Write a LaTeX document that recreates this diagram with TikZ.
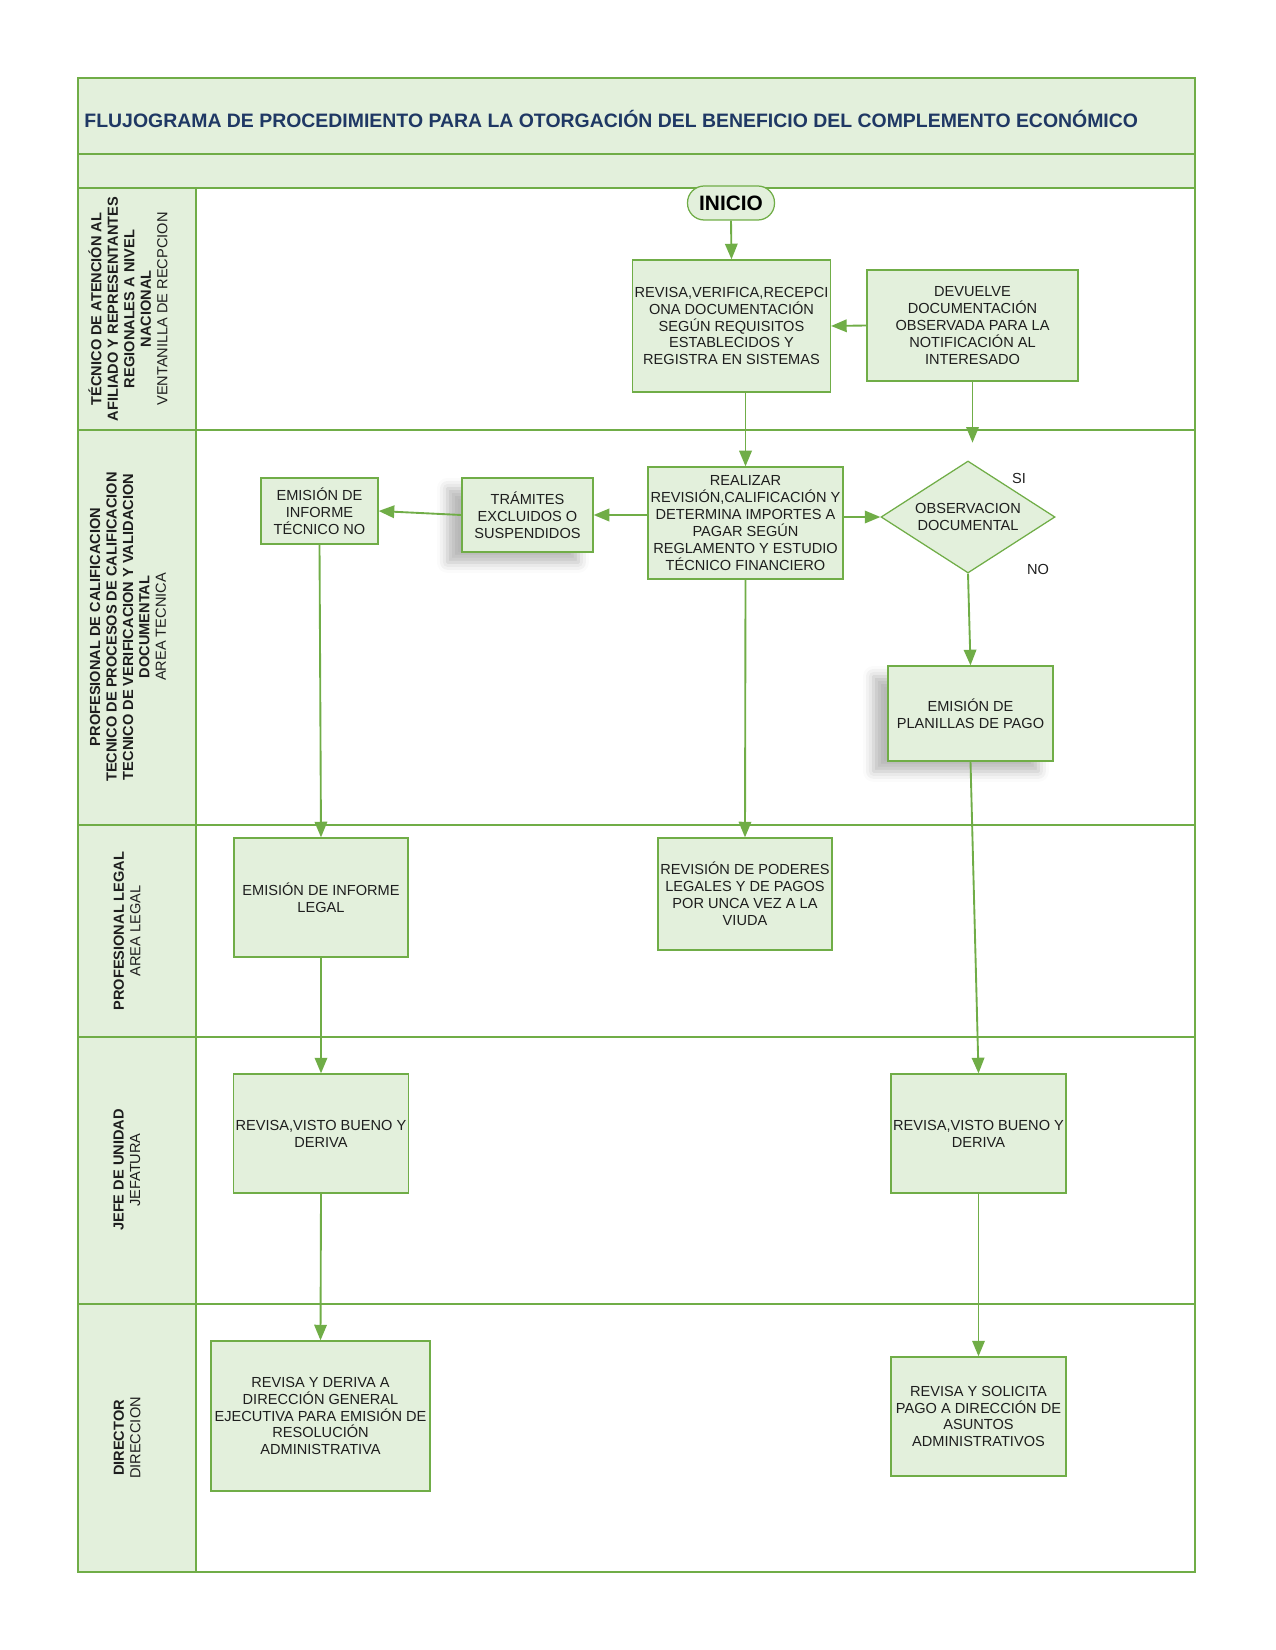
\documentclass[tikz,border=0pt]{standalone}
\usepackage{fontspec}
\setmainfont{Liberation Sans}
\usetikzlibrary{arrows.meta,shapes.geometric,shadows.blur}
\definecolor{gfill}{RGB}{227,240,220}
\definecolor{gline}{RGB}{112,173,71}
\definecolor{titleblue}{RGB}{31,56,100}
\definecolor{txt}{RGB}{30,30,30}
\begin{document}
\begin{tikzpicture}[x=0.48pt,y=-0.48pt,
  box/.style={draw=gline, fill=gfill, line width=0.6pt, align=center,
    font=\fontsize{7}{8.1}\selectfont, text=txt, inner sep=1pt},
  sz/.style 2 args={minimum width=#1*0.48pt, minimum height=#2*0.48pt},
  arr/.style={draw=gline, line width=0.9pt, -{Triangle[length=7.5pt,width=6pt]}},
  lanetxt/.style={rotate=90, align=center, font=\fontsize{7}{7.9}\selectfont, text=txt, inner sep=0pt},
  laneline/.style={draw=gline, line width=0.8pt},
  shad/.style={blur shadow={shadow xshift=-7pt, shadow yshift=-5pt, shadow blur radius=5pt, shadow opacity=28}},
  lbl/.style={font=\fontsize{7}{8}\selectfont, text=txt, inner sep=0pt}]
\useasboundingbox (0,0) rectangle (1275,1650);
% backgrounds
\fill[gfill] (78,78) rectangle (1195,188);
\fill[gfill] (78,188) rectangle (196,1572);
% frame and lanes
\draw[laneline] (78,78) rectangle (1195,1572);
\foreach \yy in {154,188,430,825,1037,1304} \draw[laneline] (78,\yy) -- (1195,\yy);
\draw[laneline] (196,188) -- (196,1572);
% title
\node[anchor=west, font=\bfseries\fontsize{9.33}{11}\selectfont, text=titleblue, inner sep=0pt] (title) at (84,119)
  {FLUJOGRAMA DE PROCEDIMIENTO PARA LA OTORGACIÓN DEL BENEFICIO DEL COMPLEMENTO ECONÓMICO};
% lane labels
\node[lanetxt] (l1) at (128,309) {\textbf{TÉCNICO DE ATENCIÓN AL}\\\textbf{AFILIADO Y REPRESENTANTES}\\\textbf{REGIONALES A NIVEL}\\\textbf{NACIONAL}\\VENTANILLA DE RECPCION};
\node[lanetxt] (l2) at (128,627) {\textbf{PROFESIONAL DE CALIFICACION}\\\textbf{TECNICO DE PROCESOS DE CALIFICACION}\\\textbf{TECNICO DE VERIFICACION Y VALIDACION}\\\textbf{DOCUMENTAL}\\AREA TECNICA};
\node[lanetxt] (l3) at (127,931) {\textbf{PROFESIONAL LEGAL}\\AREA LEGAL};
\node[lanetxt] (l4) at (127,1170) {\textbf{JEFE DE UNIDAD}\\JEFATURA};
\node[lanetxt] (l5) at (127,1438) {\textbf{DIRECTOR}\\DIRECCION};
% nodes
\node[draw=gline, fill=gfill, line width=0.6pt, rounded corners=8pt, sz={87}{34},
  font=\bfseries\fontsize{10}{12}\selectfont, text=black, inner sep=1pt] (inicio) at (731,203) {INICIO};
\node[box, sz={195}{132}] (revisa) at (731.5,326) {REVISA,VERIFICA,RECEPCI\\ONA DOCUMENTACIÓN\\SEGÚN REQUISITOS\\ESTABLECIDOS Y\\REGISTRA EN SISTEMAS};
\node[box, sz={211}{111}] (devuelve) at (972.5,325.5) {DEVUELVE\\DOCUMENTACIÓN\\OBSERVADA PARA LA\\NOTIFICACIÓN AL\\INTERESADO};
\node[box, sz={195}{112}] (realizar) at (745.5,523) {REALIZAR\\REVISIÓN,CALIFICACIÓN Y\\DETERMINA IMPORTES A\\PAGAR SEGÚN\\REGLAMENTO Y ESTUDIO\\TÉCNICO FINANCIERO};
\node[box, shad, sz={131}{74}] (tramites) at (527.5,515) {TRÁMITES\\EXCLUIDOS O\\SUSPENDIDOS};
\node[box, sz={117}{66}] (tecno) at (319.5,511) {EMISIÓN DE\\INFORME\\TÉCNICO NO};
\node[box, shape=diamond, aspect=1.55, inner sep=0pt, sz={174}{112}] (obs) at (968,517) {OBSERVACION\\DOCUMENTAL};
\node[lbl] (si) at (1019,478) {SI};
\node[lbl] (no) at (1038,569) {NO};
\node[box, shad, sz={165}{95}] (planillas) at (970.5,713.5) {EMISIÓN DE\\PLANILLAS DE PAGO};
\node[box, sz={174}{119}] (legal) at (321,897.5) {EMISIÓN DE INFORME\\LEGAL};
\node[box, sz={174}{112}] (poderes) at (745,894) {REVISIÓN DE PODERES\\LEGALES Y DE PAGOS\\POR UNCA VEZ A LA\\VIUDA};
\node[box, sz={174}{119}] (jefe1) at (321,1133.5) {REVISA,VISTO BUENO Y\\DERIVA};
\node[box, sz={175}{119}] (jefe2) at (978.5,1133.5) {REVISA,VISTO BUENO Y\\DERIVA};
\node[box, sz={219}{150}] (dir1) at (320.5,1416) {REVISA Y DERIVA A\\DIRECCIÓN GENERAL\\EJECUTIVA PARA EMISIÓN DE\\RESOLUCIÓN\\ADMINISTRATIVA};
\node[box, sz={175}{119}] (dir2) at (978.5,1416.5) {REVISA Y SOLICITA\\PAGO A DIRECCIÓN DE\\ASUNTOS\\ADMINISTRATIVOS};
% connectors
\draw[arr] (inicio.south) -- (revisa.north);
\draw[arr] (devuelve.west) -- (revisa.east);
\draw[arr] (realizar.north |- revisa.south) -- (realizar.north);
\draw[arr, shorten >=8.5pt] (devuelve.south) -- (devuelve.south |- obs.north);
\draw[arr] (realizar.east |- obs.west) -- (obs.west);
\draw[arr] (realizar.west |- tramites.east) -- (tramites.east);
\draw[arr] (tramites.west) -- (tecno.east);
\draw[arr] (tecno.south) -- (legal.north);
\draw[arr] (realizar.south) -- (poderes.north);
\draw[arr] (obs.south) -- (planillas.north);
\draw[arr] (planillas.south) -- (jefe2.north);
\draw[arr] (legal.south) -- (jefe1.north);
\draw[arr] (jefe1.south) -- (dir1.north);
\draw[arr] (jefe2.south) -- (dir2.north);
\end{tikzpicture}
\end{document}
